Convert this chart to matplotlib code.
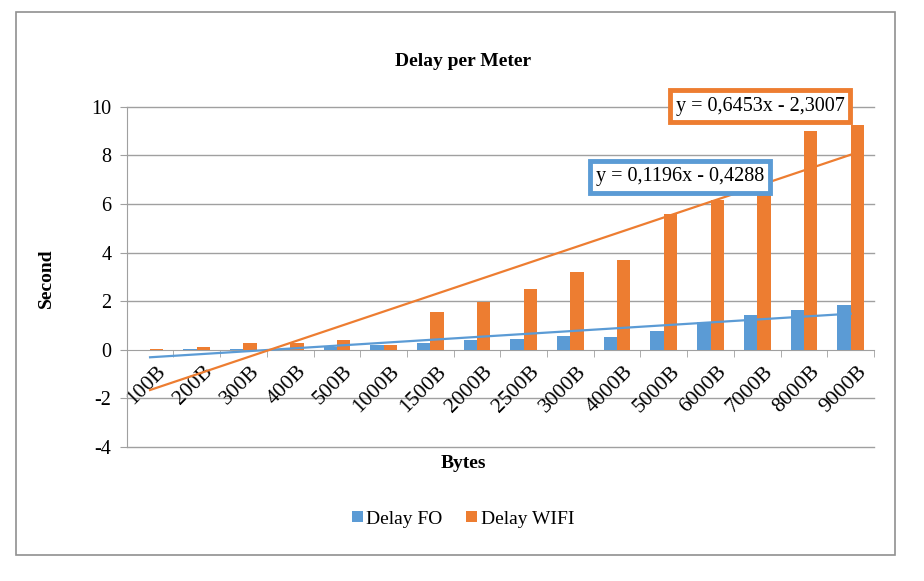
import numpy as np
import matplotlib
matplotlib.use("Agg")
import matplotlib.pyplot as plt
import matplotlib.transforms as mtransforms
from matplotlib.patches import Rectangle

categories = ["100B", "200B", "300B", "400B", "500B", "1000B", "1500B", "2000B",
              "2500B", "3000B", "4000B", "5000B", "6000B", "7000B", "8000B", "9000B"]
delay_fo = [0.01, 0.02, 0.03, 0.05, 0.10, 0.18, 0.27, 0.39,
            0.45, 0.56, 0.52, 0.79, 1.13, 1.42, 1.65, 1.86]
delay_wifi = [0.02, 0.11, 0.26, 0.28, 0.40, 0.18, 1.55, 1.96,
              2.48, 3.20, 3.71, 5.58, 6.15, 7.10, 9.00, 9.23]
fo_trend = (0.1196, -0.4288)
wifi_trend = (0.6453, -2.3007)
y_ticks = [-4, -2, 0, 2, 4, 6, 8, 10]

BLUE = "#5B9BD5"
ORANGE = "#ED7D31"
GRID = "#A0A0A0"
plt.rcParams['font.family'] = ['Liberation Serif', 'DejaVu Serif']
plt.rcParams['axes.unicode_minus'] = False

W, H = 924, 581
fig = plt.figure(figsize=(W / 100, H / 100), dpi=100)
ax = fig.add_axes([126.7 / W, 1 - 447 / H, (874 - 126.7) / W, (447 - 106.7) / H])

x = np.arange(len(categories))
bw = 0.286
ax.bar(x - bw / 2, delay_fo, bw, color=BLUE, label="Delay FO", zorder=3)
ax.bar(x + bw / 2, delay_wifi, bw, color=ORANGE, label="Delay WIFI", zorder=3)

xt = x + 1
ax.plot(x, fo_trend[0] * xt + fo_trend[1], color=BLUE, lw=1.6, zorder=4)
ax.plot(x, wifi_trend[0] * xt + wifi_trend[1], color=ORANGE, lw=1.6, zorder=4)

ax.set_xlim(-0.5, len(categories) - 0.5)
ax.set_ylim(-4, 10)
ax.set_yticks(y_ticks)
for yv in y_ticks:
    if yv != 0:
        ax.axhline(yv, color=GRID, lw=1.0, zorder=0, clip_on=False)
for s in ["top", "right"]:
    ax.spines[s].set_visible(False)
ax.spines["left"].set_color(GRID)
ax.spines["bottom"].set_color(GRID)
ax.spines["bottom"].set_position(("data", 0))
ax.tick_params(axis="y", length=5, color=GRID, labelsize=14.5, pad=6)

ax.set_xticks(x)
ax.set_xticks(np.arange(len(categories) + 1) - 0.5, minor=True)
ax.tick_params(axis="x", which="major", length=0, pad=6)
ax.tick_params(axis="x", which="minor", length=5, color=GRID, direction="out")
ax.set_xticklabels(categories, rotation=45, ha="right", va="center",
                   rotation_mode="anchor", fontsize=15.5)
offset = mtransforms.ScaledTranslation(13 / 100, -11 / 100, fig.dpi_scale_trans)
for lab in ax.get_xticklabels():
    lab.set_transform(lab.get_transform() + offset)

fig.text(463 / W, 1 - 62 / H, "Delay per Meter", ha="center", va="center",
         fontsize=14, fontweight="bold")
fig.text(46 / W, 1 - 278 / H, "Second", ha="center", va="center",
         rotation=90, fontsize=14, fontweight="bold")
fig.text(463 / W, 1 - 463 / H, "Bytes", ha="center", va="center",
         fontsize=14, fontweight="bold")

fig.text(760 / W, 1 - 106 / H, "y = 0,6453x - 2,3007", ha="center", va="center",
         fontsize=14.5, zorder=10,
         bbox=dict(boxstyle="square,pad=0.3", fc="white", ec=ORANGE, lw=3.5))
fig.text(680 / W, 1 - 177 / H, "y = 0,1196x - 0,4288", ha="center", va="center",
         fontsize=14.5, zorder=10,
         bbox=dict(boxstyle="square,pad=0.3", fc="white", ec=BLUE, lw=3.5))

fig.legend(loc="center", bbox_to_anchor=(463 / W, 1 - 519 / H), ncol=2,
           frameon=False, fontsize=14, handlelength=0.55, handleheight=0.55,
           handletextpad=0.2, columnspacing=1.2)

fig.patches.append(Rectangle((16 / W, 1 - 555 / H), (895 - 16) / W, (555 - 12) / H,
                             transform=fig.transFigure, fill=False,
                             ec="#909090", lw=1.2))

fig.savefig("out.png", dpi=100)
